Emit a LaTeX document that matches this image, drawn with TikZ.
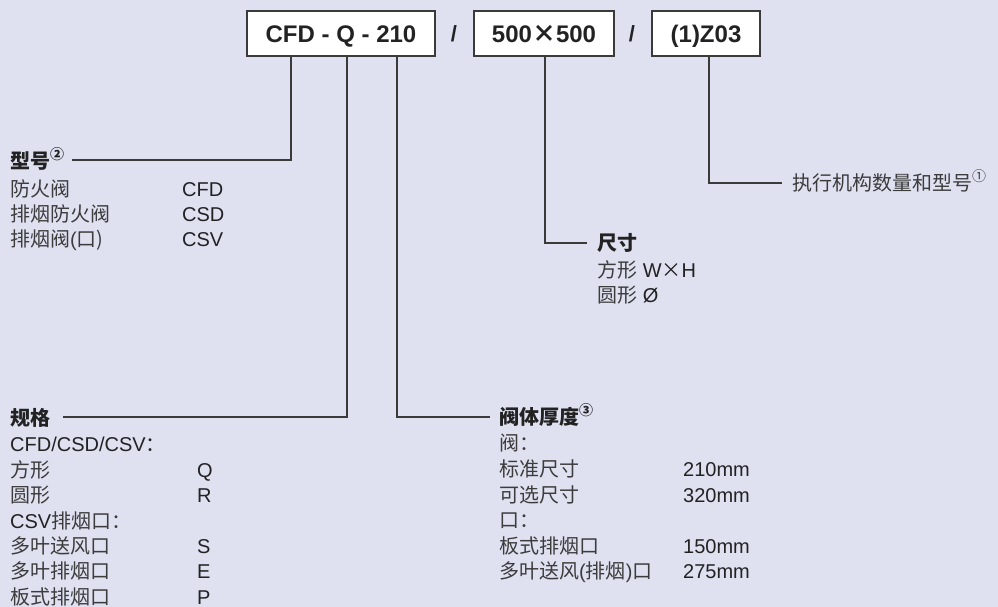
\documentclass[tikz,border=0pt]{standalone}
\usepackage{fontspec}
\setmainfont{Liberation Sans}
\newfontfamily\cjk{Noto Sans CJK SC}
\definecolor{bgc}{HTML}{DFE1F1}
\definecolor{linec}{HTML}{3A3A3A}
\definecolor{txtc}{HTML}{222222}
\definecolor{bodyc}{HTML}{3C3C3C}
\newcommand{\sups}[1]{\raisebox{0.45em}{\fontsize{14}{14}\selectfont\cjk #1}}
\tikzset{
  codebox/.style={draw=linec, line width=1.4pt, fill=white, minimum height=45pt, inner sep=0pt,
    text height=21.6pt, text depth=4.3pt,
    font=\fontsize{24}{26}\selectfont\bfseries, text=txtc},
  slash/.style={inner sep=0pt, text height=19.8pt, text depth=4pt,
    font=\fontsize{22}{24}\selectfont\bfseries, text=txtc},
  row/.style={anchor=west, inner sep=0pt, text height=18pt, text depth=3.6pt,
    font=\fontsize{20}{23}\selectfont, text=bodyc},
  head/.style={row, font=\fontsize{20}{23}\selectfont\bfseries, text=txtc},
  val/.style={row, text=txtc},
  conn/.style={draw=linec, line width=1.4pt}
}
\begin{document}
\begin{tikzpicture}[x=1pt,y=-1pt]
\fill[bgc] (0,0) rectangle (998,607);
\useasboundingbox (0,0) rectangle (998,607);
% boxes
\node[codebox, minimum width=188pt] (b1) at (341,33.5) {CFD - Q - 210};
\node[slash] (s1) at (454,34) {/};
\node[codebox, minimum width=140pt] (b2) at (544,33.5) {500{\cjk ×}500};
\node[slash] (s2) at (632,34) {/};
\node[codebox, minimum width=108pt] (b3) at (706,33.5) {(1)Z03};
% connector points
\coordinate (k1) at (291,160);
\coordinate (k2) at (347,417);
\coordinate (k3) at (397,417);
\coordinate (k4) at (545,243);
\coordinate (k5) at (709,183);
\coordinate (e1) at (72,160);
\coordinate (e2) at (63,417);
\coordinate (e3) at (490,417);
\coordinate (e4) at (587,243);
\coordinate (e5) at (782,183);
\draw[conn] (b1.south -| k1) -- (k1) -- (e1);
\draw[conn] (b1.south -| k2) -- (k2) -- (e2);
\draw[conn] (b1.south -| k3) -- (k3) -- (e3);
\draw[conn] (b2.south -| k4) -- (k4) -- (e4);
\draw[conn] (b3.south -| k5) -- (k5) -- (e5);
% group type
\node[head] (h1) at (10,161) {\cjk\bfseries 型号\sups{②}};
\node[row] (t11) at (10,189) {\cjk 防火阀};
\node[val] (v11) at (182,189) {CFD};
\node[row] (t12) at (10,214) {\cjk 排烟防火阀};
\node[val] (v12) at (182,214) {CSD};
\node[row] (t13) at (10,239) {{\cjk 排烟阀}(\cjk 口)};
\node[val] (v13) at (182,239) {CSV};
% group spec
\node[head] (h2) at (10,418) {\cjk\bfseries 规格};
\node[val] (t21) at (10,444) {CFD/CSD/CSV{\cjk ：}};
\node[row] (t22) at (10,470) {\cjk 方形};
\node[val] (v22) at (197,470) {Q};
\node[row] (t23) at (10,495) {\cjk 圆形};
\node[val] (v23) at (197,495) {R};
\node[val] (t24) at (10,521) {CSV{\cjk\color{bodyc} 排烟口：}};
\node[row] (t25) at (10,546) {\cjk 多叶送风口};
\node[val] (v25) at (197,546) {S};
\node[row] (t26) at (10,571) {\cjk 多叶排烟口};
\node[val] (v26) at (197,571) {E};
\node[row] (t27) at (10,597) {\cjk 板式排烟口};
\node[val] (v27) at (197,597) {P};
% group thickness
\node[head] (h3) at (499,417) {\cjk\bfseries 阀体厚度\sups{③}};
\node[row] (t31) at (499,443) {\cjk 阀：};
\node[row] (t32) at (499,469) {\cjk 标准尺寸};
\node[val] (v32) at (683,469) {210mm};
\node[row] (t33) at (499,495) {\cjk 可选尺寸};
\node[val] (v33) at (683,495) {320mm};
\node[row] (t34) at (499,520) {\cjk 口：};
\node[row] (t35) at (499,546) {\cjk 板式排烟口};
\node[val] (v35) at (683,546) {150mm};
\node[row] (t36) at (499,571) {{\cjk 多叶送风}({\cjk 排烟}){\cjk 口}};
\node[val] (v36) at (683,571) {275mm};
% group size
\node[head] (h4) at (597,243) {\cjk\bfseries 尺寸};
\node[row] (t41) at (597,270) {{\cjk 方形} \textcolor{txtc}{W{\cjk ×}H}};
\node[row] (t42) at (597,295) {{\cjk 圆形} \textcolor{txtc}{Ø}};
% actuator
\node[row] (h5) at (792,183) {\cjk 执行机构数量和型号\sups{①}};
\end{tikzpicture}
\end{document}
